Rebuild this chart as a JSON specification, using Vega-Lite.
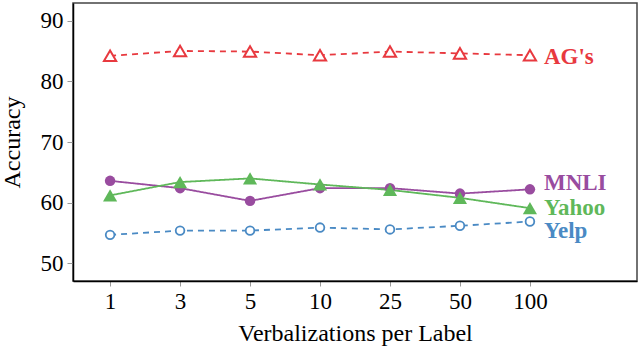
{
  "$schema": "https://vega.github.io/schema/vega-lite/v6.json",
  "autosize": "none",
  "width": 564,
  "height": 278,
  "padding": {"left": 73, "top": 3, "right": 3, "bottom": 66},
  "background": "white",
  "config": {
    "view": {"stroke": "#444444", "strokeWidth": 1.5},
    "font": "Liberation Serif",
    "axis": {
      "labelFont": "Liberation Serif",
      "titleFont": "Liberation Serif",
      "labelFontSize": 23,
      "titleFontSize": 24,
      "titleFontWeight": "normal",
      "labelColor": "black",
      "titleColor": "black",
      "domainColor": "black",
      "domainWidth": 1.5,
      "tickColor": "#999999",
      "tickWidth": 1,
      "grid": false
    }
  },
  "data": {
    "values": [
      {"k": 1, "series": "AG's", "acc": 84.2},
      {"k": 3, "series": "AG's", "acc": 85.0},
      {"k": 5, "series": "AG's", "acc": 84.9},
      {"k": 10, "series": "AG's", "acc": 84.3},
      {"k": 25, "series": "AG's", "acc": 84.9},
      {"k": 50, "series": "AG's", "acc": 84.6},
      {"k": 100, "series": "AG's", "acc": 84.3},
      {"k": 1, "series": "MNLI", "acc": 63.6},
      {"k": 3, "series": "MNLI", "acc": 62.4},
      {"k": 5, "series": "MNLI", "acc": 60.3},
      {"k": 10, "series": "MNLI", "acc": 62.4},
      {"k": 25, "series": "MNLI", "acc": 62.4},
      {"k": 50, "series": "MNLI", "acc": 61.5},
      {"k": 100, "series": "MNLI", "acc": 62.2},
      {"k": 1, "series": "Yahoo", "acc": 61.2},
      {"k": 3, "series": "Yahoo", "acc": 63.4},
      {"k": 5, "series": "Yahoo", "acc": 64.0},
      {"k": 10, "series": "Yahoo", "acc": 63.0},
      {"k": 25, "series": "Yahoo", "acc": 62.1},
      {"k": 50, "series": "Yahoo", "acc": 60.8},
      {"k": 100, "series": "Yahoo", "acc": 59.1},
      {"k": 1, "series": "Yelp", "acc": 54.7},
      {"k": 3, "series": "Yelp", "acc": 55.4},
      {"k": 5, "series": "Yelp", "acc": 55.4},
      {"k": 10, "series": "Yelp", "acc": 55.9},
      {"k": 25, "series": "Yelp", "acc": 55.6},
      {"k": 50, "series": "Yelp", "acc": 56.2},
      {"k": 100, "series": "Yelp", "acc": 56.9}
    ]
  },
  "encoding": {
    "x": {
      "field": "k",
      "type": "ordinal",
      "scale": {"type": "point", "domain": [1, 3, 5, 10, 25, 50, 100, 200], "padding": 0.53},
      "axis": {"values": [1, 3, 5, 10, 25, 50, 100], "labelAngle": 0, "title": "Verbalizations per Label", "labelFont": "Liberation Serif", "titleFont": "Liberation Serif", "labelFontSize": 23, "titleFontSize": 24, "tickSize": 5, "labelPadding": 4, "titlePadding": 8}
    },
    "y": {
      "field": "acc",
      "type": "quantitative",
      "scale": {"domain": [47.1, 92.9], "nice": false, "zero": false},
      "axis": {"values": [50, 60, 70, 80, 90], "title": "Accuracy", "labelFont": "Liberation Serif", "titleFont": "Liberation Serif", "labelFontSize": 23, "titleFontSize": 24, "tickSize": 6, "labelPadding": 4, "titlePadding": 16}
    },
    "color": {
      "field": "series",
      "type": "nominal",
      "scale": {"domain": ["AG's", "MNLI", "Yahoo", "Yelp"], "range": ["#e8393f", "#994c9f", "#5fb85a", "#4a8ac4"]},
      "legend": null
    }
  },
  "layer": [
    {
      "mark": {"type": "line", "strokeWidth": 1.8},
      "encoding": {
        "strokeDash": {
          "field": "series",
          "type": "nominal",
          "scale": {"domain": ["AG's", "MNLI", "Yahoo", "Yelp"], "range": [[6, 5], [1, 0], [1, 0], [6, 5]]},
          "legend": null
        }
      }
    },
    {
      "transform": [{"filter": "datum.series === 'MNLI'"}],
      "mark": {"type": "point", "shape": "circle", "filled": true, "size": 110, "opacity": 1}
    },
    {
      "transform": [{"filter": "datum.series === 'Yahoo'"}],
      "mark": {"type": "point", "shape": "triangle-up", "filled": true, "size": 200, "opacity": 1}
    },
    {
      "transform": [{"filter": "datum.series === 'AG\\'s'"}],
      "mark": {"type": "point", "shape": "triangle-up", "filled": true, "fill": "white", "strokeWidth": 2, "size": 150, "opacity": 1},
      "encoding": {"stroke": {"field": "series", "type": "nominal", "scale": {"domain": ["AG's", "MNLI", "Yahoo", "Yelp"], "range": ["#e8393f", "#994c9f", "#5fb85a", "#4a8ac4"]}, "legend": null}}
    },
    {
      "transform": [{"filter": "datum.series === 'Yelp'"}],
      "mark": {"type": "point", "shape": "circle", "filled": true, "fill": "white", "strokeWidth": 1.8, "size": 75, "opacity": 1},
      "encoding": {"stroke": {"field": "series", "type": "nominal", "scale": {"domain": ["AG's", "MNLI", "Yahoo", "Yelp"], "range": ["#e8393f", "#994c9f", "#5fb85a", "#4a8ac4"]}, "legend": null}}
    },
    {
      "transform": [{"filter": "datum.k === 100 && datum.series === 'AG\\'s'"}],
      "mark": {"type": "text", "font": "Liberation Serif", "fontWeight": "bold", "fontSize": 23, "align": "left", "baseline": "middle", "dx": 14, "dy": 2},
      "encoding": {"text": {"field": "series"}}
    },
    {
      "transform": [{"filter": "datum.k === 100 && datum.series === 'MNLI'"}],
      "mark": {"type": "text", "font": "Liberation Serif", "fontWeight": "bold", "fontSize": 23, "align": "left", "baseline": "middle", "dx": 14, "dy": -6},
      "encoding": {"text": {"field": "series"}}
    },
    {
      "transform": [{"filter": "datum.k === 100 && datum.series === 'Yahoo'"}],
      "mark": {"type": "text", "font": "Liberation Serif", "fontWeight": "bold", "fontSize": 23, "align": "left", "baseline": "middle", "dx": 14, "dy": 0},
      "encoding": {"text": {"field": "series"}}
    },
    {
      "transform": [{"filter": "datum.k === 100 && datum.series === 'Yelp'"}],
      "mark": {"type": "text", "font": "Liberation Serif", "fontWeight": "bold", "fontSize": 23, "align": "left", "baseline": "middle", "dx": 14, "dy": 9},
      "encoding": {"text": {"field": "series"}}
    }
  ]
}
